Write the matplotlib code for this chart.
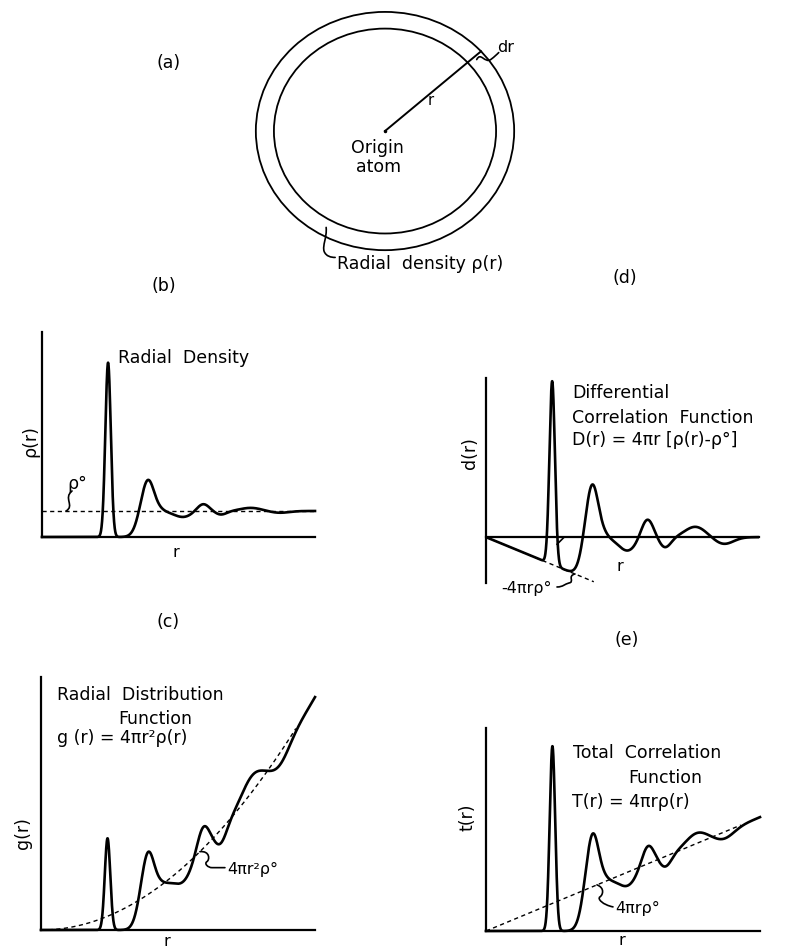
import numpy as np
import matplotlib.pyplot as plt
import matplotlib.transforms as mtransforms
from matplotlib.patches import Ellipse, PathPatch
from matplotlib.path import Path

W, H = 789, 951

# radial density rho(r) in units of the bulk density rho0, r from 0 to 10
rhoBulk = 1.0
firstPeak = (2.42, 6.7, 0.1)    # centre, height, width
secondPeak = (3.88, 2.15, 0.27)
stepCentre = 4.25
stepWidth = 0.12
waveCentres = [5.16, 5.9, 6.55, 7.65, 8.7]
waveHeights = [-0.23, 0.28, -0.14, 0.12, -0.07]
waveWidths = [0.33, 0.22, 0.22, 0.38, 0.35]

# shell drawing: outer radius 1, inner radius of the shell, angle of the r vector
shellInner = 0.86
radiusAngle = 42.0

plt.rcParams['font.family'] = ['DejaVu Sans']
fig = plt.figure(figsize=(W / 100, H / 100), dpi=100)

FS = 12.5
LW = 1.9
AXLW = 1.6


def gauss(x, c, h, w):
    return h * np.exp(-0.5 * ((x - c) / w) ** 2)


r = np.linspace(0, 10, 3000)
waves = np.ones_like(r)
for c, h, w in zip(waveCentres, waveHeights, waveWidths):
    waves += gauss(r, c, h, w)
rho = gauss(r, *firstPeak) + gauss(r, *secondPeak)
rho += rhoBulk * waves / (1 + np.exp(-(r - stepCentre) / stepWidth))

g = 4 * np.pi * r ** 2 * rho
T = 4 * np.pi * r * rho
D = 4 * np.pi * r * (rho - rhoBulk)


def add_panel(left, top, right, bottom):
    ax = fig.add_axes([left / W, 1 - bottom / H, (right - left) / W, (bottom - top) / H])
    ax.patch.set_visible(False)
    for s in ['top', 'right']:
        ax.spines[s].set_visible(False)
    for s in ['left', 'bottom']:
        ax.spines[s].set_linewidth(AXLW)
    ax.set_xticks([])
    ax.set_yticks([])
    return ax


def squiggle(ax, x, y, verts, codes, lw=1.2):
    # little hand-drawn style pointer, vertices given in pixels from (x, y)
    v = np.array(verts, float) / 100.0
    cmap = {'M': Path.MOVETO, 'C': Path.CURVE4, 'L': Path.LINETO}
    path = Path(v, [cmap[c] for c in codes])
    trans = fig.dpi_scale_trans + mtransforms.ScaledTranslation(x, y, ax.transData)
    ax.add_patch(PathPatch(path, fill=False, lw=lw, ec='k', transform=trans,
                           clip_on=False, capstyle='round'))


# (a) the shell around the origin atom
ax = fig.add_axes([230 / W, 1 - 274 / H, 310 / W, 274 / H])
ax.set_axis_off()
ax.add_patch(Ellipse((0, 0), 2, 2, fill=False, lw=1.3))
ax.add_patch(Ellipse((0, 0), 2 * shellInner, 2 * shellInner, fill=False, lw=1.3))
ang = np.deg2rad(radiusAngle)
ax.plot([0, np.cos(ang)], [0, np.sin(ang)], color='k', lw=1.4)
ax.plot([0], [0], 'k.', ms=3)
ax.text(0.35, 0.26, 'r', fontsize=FS - 2, ha='center', va='center')
ax.text(0.93, 0.70, 'dr', fontsize=FS - 1, ha='center', va='center')
ax.text(-0.06, -0.14, 'Origin', fontsize=FS, ha='center', va='center')
ax.text(-0.05, -0.30, 'atom', fontsize=FS, ha='center', va='center')
ax.text(-0.37, -1.12, 'Radial  density ρ(r)', fontsize=FS, ha='left', va='center')
squiggle(ax, 0.71, 0.60, [(0, 0), (4, 8), (8, -4), (14, 0), (18, 3), (20, 5), (22, 7)], 'MCCCCCC')
mid = (1 + shellInner) / 2
squiggle(ax, -mid * 0.49, -mid * 0.87,
         [(0, 0), (1, -10), (-4, -18), (-2, -24), (0, -29), (5, -30), (9, -30)], 'MCCCCCC')
ax.set_xlim(-1.2, 1.2)
ax.set_ylim(-1.2, 1.1)

# (b) radial density
ax = add_panel(42, 332, 315, 537)
ax.plot(r, rho, color='k', lw=LW, clip_on=False)
ax.plot([0, 10], [rhoBulk, rhoBulk], color='k', lw=1.0, ls=(0, (3, 2.5)))
ax.text(2.78, 6.88, 'Radial  Density', fontsize=FS, ha='left', va='center')
ax.text(1.3, 2.05, 'ρ°', fontsize=FS, ha='center', va='center')
squiggle(ax, 0.88, rhoBulk, [(0, 0), (9, 5), (-3, 13), (6, 20)], 'MCCC')
ax.text(4.9, -0.6, 'r', fontsize=FS - 1, ha='center', va='center')
ax.text(-0.44, 3.7, 'ρ(r)', fontsize=FS, rotation=90, ha='center', va='center')
ax.set_xlim(0, 10)
ax.set_ylim(0, 7.88)

# (c) radial distribution function
ax = add_panel(41, 677, 315, 930)
ax.plot(r, g, color='k', lw=LW, clip_on=False)
rr = r[r <= 9.3]
ax.plot(rr, 4 * np.pi * rr ** 2 * rhoBulk, color='k', lw=1.0, ls=(0, (3, 2.5)))
ax.text(0.58, 1268, 'Radial  Distribution', fontsize=FS, ha='left', va='center')
ax.text(4.16, 1138, 'Function', fontsize=FS, ha='center', va='center')
ax.text(0.58, 1036, 'g (r) = 4πr²ρ(r)', fontsize=FS, ha='left', va='center')
ax.text(6.79, 324, '4πr²ρ°', fontsize=FS - 1, ha='left', va='center')
squiggle(ax, 5.8, 4 * np.pi * 5.8 ** 2 * rhoBulk,
         [(0, 0), (10, 1), (10, -8), (7, -10), (4, -12), (8, -16), (12, -16), (25, -16)], 'MCCCCCCL')
ax.text(-0.66, 523, 'g(r)', fontsize=FS, rotation=90, ha='center', va='center')
ax.text(4.6, -62, 'r', fontsize=FS - 1, ha='center', va='center')
ax.set_xlim(0, 10)
ax.set_ylim(0, 1365)

# (d) differential correlation function
ax = add_panel(486, 378, 759, 583)
ax.spines['bottom'].set_position(('data', 0))
ax.plot(r, D, color='k', lw=LW)
rl = r[r <= 3.95]
ax.plot(rl, -4 * np.pi * rl * rhoBulk, color='k', lw=1.0, ls=(0, (3, 2.5)))
ax.text(3.15, 160, 'Differential', fontsize=FS, ha='left', va='center')
ax.text(3.15, 133, 'Correlation  Function', fontsize=FS, ha='left', va='center')
ax.text(3.15, 108, 'D(r) = 4πr [ρ(r)-ρ°]', fontsize=FS, ha='left', va='center')
ax.text(1.5, -57, '-4πrρ°', fontsize=FS - 1, ha='center', va='center')
squiggle(ax, 3.26, -4 * np.pi * 3.26 * rhoBulk,
         [(0, 0), (-8, -2), (0, -8), (-6, -9), (-10, -10), (-12, -13), (-18, -13)], 'MCCCCCC')
squiggle(ax, 2.6, -8, [(0, 0), (7, 7)], 'ML')
ax.text(4.9, -33, 'r', fontsize=FS - 1, ha='center', va='center')
ax.text(-0.59, 93, 'd(r)', fontsize=FS, rotation=90, ha='center', va='center')
ax.set_xlim(0, 10)
ax.set_ylim(-51, 177)

# (e) total correlation function
ax = add_panel(486, 728, 760, 931)
ax.plot(r, T, color='k', lw=LW, clip_on=False)
rt = r[r <= 9.3]
ax.plot(rt, 4 * np.pi * rt * rhoBulk, color='k', lw=1.0, ls=(0, (3, 2.5)))
ax.text(3.18, 196, 'Total  Correlation', fontsize=FS, ha='left', va='center')
ax.text(6.53, 169, 'Function', fontsize=FS, ha='center', va='center')
ax.text(3.14, 142, 'T(r) = 4πrρ(r)', fontsize=FS, ha='left', va='center')
ax.text(4.7, 25, '4πrρ°', fontsize=FS - 1, ha='left', va='center')
squiggle(ax, 4.05, 4 * np.pi * 4.05 * rhoBulk,
         [(0, 0), (8, -3), (6, -10), (3, -12), (0, -14), (6, -20), (16, -22)], 'MCCCCCC')
ax.text(-0.66, 125, 't(r)', fontsize=FS, rotation=90, ha='center', va='center')
ax.text(4.96, -11, 'r', fontsize=FS - 1, ha='center', va='center')
ax.set_xlim(0, 10)
ax.set_ylim(0, 224)

# panel letters
for lab, x, y in [('(a)', 169, 63), ('(b)', 164, 286), ('(d)', 625, 278),
                  ('(c)', 168, 622), ('(e)', 627, 640)]:
    fig.text(x / W, 1 - y / H, lab, fontsize=FS, ha='center', va='center')

fig.savefig('out.png', dpi=100)
